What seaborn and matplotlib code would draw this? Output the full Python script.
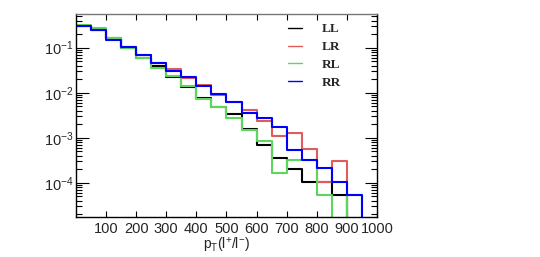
import matplotlib
matplotlib.use("Agg")
import numpy as np
import pandas as pd
import seaborn as sns
import matplotlib.pyplot as plt
from matplotlib.lines import Line2D
from matplotlib.ticker import LogLocator, NullFormatter, FuncFormatter

# pT(l+/l-) histograms, 50 GeV bins from 0 to 1000
bin_edges = [0, 50, 100, 150, 200, 250, 300, 350, 400, 450, 500,
             550, 600, 650, 700, 750, 800, 850, 900, 950, 1000]

ll = [0.30, 0.25, 0.16, 0.100, 0.058, 0.040, 0.0225, 0.0136, 0.00764, 0.00491,
      0.00339, 0.00158, 0.000676, 0.000358, 0.000207, 0.000105, 0.000105, 0.0000532, 0, 0]
lr = [0.30, 0.245, 0.152, 0.102, 0.069, 0.046, 0.0334, 0.0207, 0.0148, 0.0088,
      0.00633, 0.00415, 0.00241, 0.00112, 0.00127, 0.000571, 0.000105, 0.000304, 0, 0]
rl = [0.317, 0.268, 0.166, 0.097, 0.060, 0.0362, 0.0237, 0.0138, 0.00726, 0.00473,
      0.00277, 0.00150, 0.000841, 0.000163, 0.000315, 0.000315, 0.0000532, 0, 0.0000532, 0]
rr = [0.301, 0.242, 0.150, 0.1035, 0.069, 0.0453, 0.0306, 0.0229, 0.0143, 0.00936,
      0.00611, 0.00349, 0.00277, 0.00177, 0.000525, 0.000315, 0.000218, 0.000105, 0.0000532, 0]

labels = ["LL", "LR", "RL", "RR"]
colors = ["black", "#e05c5c", "#5cd65c", "#0000ff"]

sns.set_style("ticks")
plt.rcParams['font.family'] = 'Liberation Sans'
plt.rcParams['mathtext.fontset'] = 'custom'
plt.rcParams['mathtext.rm'] = 'Liberation Sans'
plt.rcParams['mathtext.it'] = 'Liberation Sans:italic'

fig = plt.figure(figsize=(5.4, 2.57), dpi=100)
ax = fig.add_axes([0.1407, 0.1537, 0.5574, 0.792])

centers = [(a + b) / 2 for a, b in zip(bin_edges[:-1], bin_edges[1:])]
for name, vals, col in zip(labels, [ll, lr, rl, rr], colors):
    df = pd.DataFrame({"pt": centers, "w": vals})
    sns.histplot(data=df, x="pt", weights="w", bins=bin_edges, element="step",
                 fill=False, color=col, linewidth=1.5, ax=ax)

ax.set_yscale("log", nonpositive="clip")
ax.set_xlim(0, 1000)
ax.set_ylim(1.7e-5, 0.56)
ax.set_xticks(range(100, 1001, 100))
ax.yaxis.set_major_locator(LogLocator(base=10))
ax.yaxis.set_minor_locator(LogLocator(base=10, subs=np.arange(2, 10)))
ax.yaxis.set_minor_formatter(NullFormatter())
ax.yaxis.set_major_formatter(FuncFormatter(
    lambda v, pos: "10$^{%d}$" % int(round(np.log10(v)))))

ax.tick_params(axis="both", which="both", direction="in", top=True, right=True,
               labelsize=10.5, color="black", width=0.8)
ax.tick_params(axis="y", which="major", length=9, pad=1.5)
ax.tick_params(axis="y", which="minor", length=4.5)
ax.tick_params(axis="x", which="major", length=4, pad=3)
for sp in ax.spines.values():
    sp.set_linewidth(1.0)
    sp.set_color("black")
ax.spines["top"].set_color("#777777")

ax.set_ylabel("")
ax.set_xlabel(r"$\mathrm{p_{T}(l^{+}/l^{-})}$", fontsize=10, labelpad=0)

handles = [Line2D([], [], color=c, lw=1.0) for c in colors]
ax.legend(handles, labels, loc="upper left", bbox_to_anchor=(0.704, 0.955),
          frameon=False, borderpad=0, borderaxespad=0, handlelength=1.1,
          handletextpad=1.5, labelspacing=0.42,
          prop=dict(family="Liberation Serif", weight="bold", size=9.5))

fig.savefig("out.png", dpi=100)
